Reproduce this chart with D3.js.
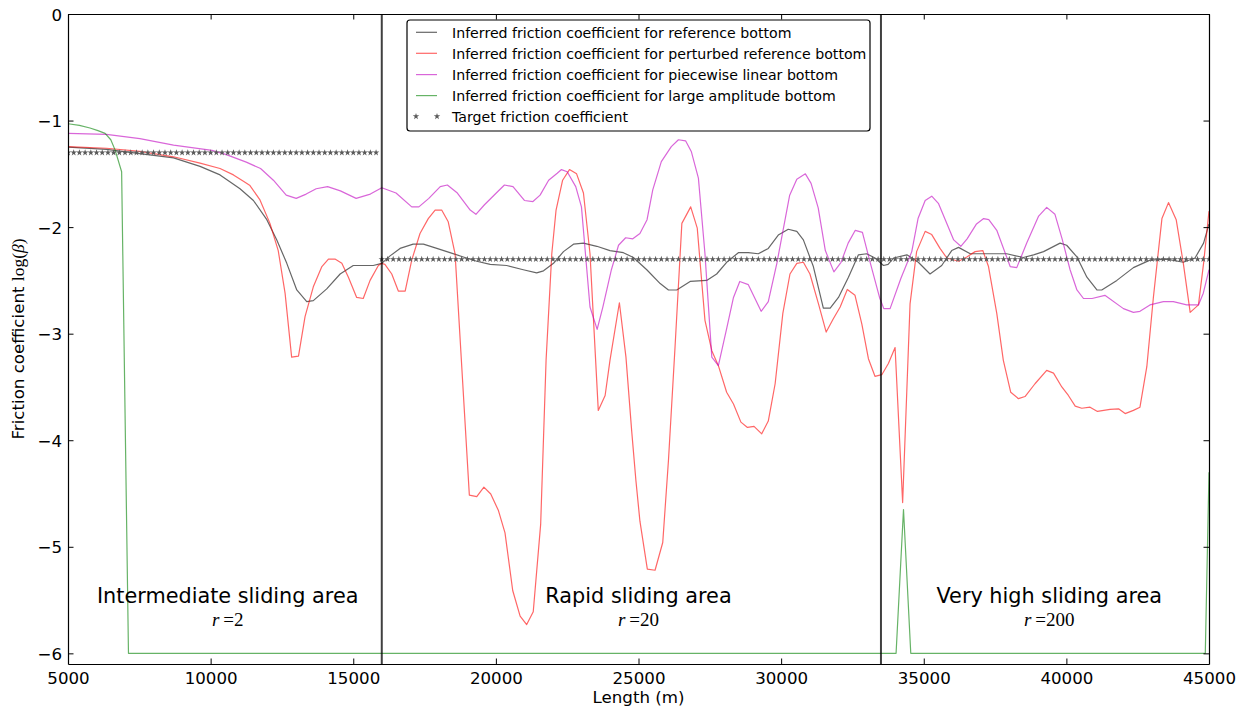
<!DOCTYPE html>
<html>
<head>
<meta charset="utf-8">
<script src="https://cdn.jsdelivr.net/npm/d3@7"></script>
<style>
  body { margin: 0; background: #fff; }
  svg { display: block; }
  text { font-family: "DejaVu Sans", sans-serif; fill: #000; }
</style>
</head>
<body>
<svg id="chart" width="1248" height="711"></svg>
<script>
// Inferred friction coefficient, log10(beta), along the flowline (m)
const refX = [5000, 6350, 7520, 8700, 9630, 10330, 11030, 11500, 11970, 12320, 12670, 13020, 13370, 13600, 14070, 14540, 15000, 15700, 16000, 16290, 16640, 17100, 17460, 17930, 18390, 18860, 19330, 19800, 20380, 20960, 21430, 21670, 22020, 22370, 22720, 23070, 23540, 24000, 24470, 24820, 25290, 25760, 26050, 26340, 26810, 27390, 27740, 28090, 28500, 28850, 29200, 29550, 29900, 30250, 30550, 30780, 31130, 31480, 31720, 32010, 32360, 32710, 33000, 33290, 33590, 33750, 33940, 34410, 34810, 35220, 35630, 35980, 36220, 36630, 37210, 37910, 38490, 38850, 39200, 39780, 40010, 40370, 40720, 41070, 41240, 41770, 42350, 42930, 43520, 44100, 44510, 44810, 45000];
const refY = [-1.25, -1.27, -1.31, -1.35, -1.43, -1.51, -1.64, -1.75, -1.93, -2.12, -2.34, -2.59, -2.70, -2.69, -2.58, -2.44, -2.36, -2.36, -2.34, -2.27, -2.20, -2.16, -2.16, -2.20, -2.24, -2.28, -2.32, -2.35, -2.36, -2.40, -2.43, -2.41, -2.34, -2.23, -2.16, -2.15, -2.18, -2.22, -2.24, -2.285, -2.40, -2.53, -2.59, -2.59, -2.51, -2.50, -2.44, -2.33, -2.24, -2.24, -2.25, -2.20, -2.075, -2.02, -2.04, -2.12, -2.37, -2.76, -2.76, -2.66, -2.47, -2.26, -2.25, -2.29, -2.36, -2.35, -2.29, -2.26, -2.33, -2.44, -2.36, -2.22, -2.19, -2.25, -2.25, -2.25, -2.285, -2.26, -2.23, -2.15, -2.17, -2.28, -2.47, -2.59, -2.59, -2.50, -2.38, -2.31, -2.30, -2.33, -2.29, -2.15, -1.97];

const pertX = [5000, 6350, 7520, 8700, 9630, 10330, 10800, 11150, 11380, 11730, 12080, 12370, 12610, 12840, 13080, 13310, 13600, 13900, 14130, 14360, 14600, 14830, 15120, 15350, 15590, 15880, 16000, 16110, 16350, 16580, 16820, 17050, 17340, 17630, 17870, 18100, 18330, 18570, 19070, 19330, 19580, 19820, 20090, 20320, 20590, 20850, 21080, 21310, 21570, 21760, 21960, 22110, 22340, 22580, 22830, 23070, 23300, 23590, 23830, 24000, 24330, 24560, 24760, 24910, 25050, 25310, 25580, 25850, 26050, 26280, 26520, 26830, 27060, 27330, 27570, 27800, 28090, 28330, 28590, 28820, 29050, 29320, 29550, 29790, 30060, 30310, 30550, 30780, 31010, 31310, 31580, 31830, 32070, 32320, 32590, 32830, 33060, 33290, 33530, 33760, 33995, 34260, 34520, 34750, 35050, 35280, 35570, 35810, 36220, 36510, 36800, 37070, 37270, 37560, 37790, 38050, 38320, 38550, 38900, 39310, 39550, 39840, 40070, 40310, 40540, 40830, 41090, 41530, 41830, 42060, 42350, 42580, 42820, 43050, 43350, 43580, 43850, 44100, 44340, 44630, 44810, 45000];
const pertY = [-1.245, -1.26, -1.29, -1.34, -1.40, -1.45, -1.51, -1.57, -1.61, -1.745, -1.965, -2.22, -2.62, -3.22, -3.21, -2.84, -2.56, -2.37, -2.30, -2.30, -2.34, -2.47, -2.66, -2.67, -2.50, -2.36, -2.34, -2.35, -2.44, -2.60, -2.60, -2.31, -2.06, -1.92, -1.84, -1.84, -1.95, -2.25, -4.515, -4.53, -4.44, -4.505, -4.66, -4.87, -5.41, -5.65, -5.73, -5.61, -4.79, -3.25, -2.25, -1.84, -1.56, -1.46, -1.50, -1.68, -2.25, -3.72, -3.58, -3.25, -2.71, -3.22, -3.91, -4.38, -4.76, -5.21, -5.22, -4.96, -4.19, -3.13, -1.965, -1.81, -2.01, -2.875, -3.16, -3.30, -3.55, -3.66, -3.83, -3.88, -3.87, -3.94, -3.82, -3.47, -2.81, -2.44, -2.34, -2.33, -2.44, -2.72, -2.985, -2.86, -2.75, -2.585, -2.64, -2.91, -3.235, -3.40, -3.385, -3.28, -3.13, -4.585, -2.72, -2.23, -2.04, -2.07, -2.20, -2.29, -2.32, -2.28, -2.23, -2.22, -2.37, -2.81, -3.25, -3.55, -3.61, -3.59, -3.47, -3.345, -3.37, -3.50, -3.58, -3.68, -3.70, -3.69, -3.73, -3.71, -3.705, -3.75, -3.72, -3.69, -3.31, -2.66, -1.92, -1.77, -1.93, -2.34, -2.80, -2.73, -2.34, -1.85];

const pwlX = [5000, 6350, 7520, 8700, 10050, 10550, 11250, 11750, 12200, 12650, 13000, 13350, 13700, 14100, 14550, 15100, 15600, 16000, 16500, 17050, 17300, 17650, 18050, 18300, 18650, 19100, 19300, 19600, 20050, 20300, 20600, 21000, 21300, 21550, 21850, 22150, 22300, 22500, 22800, 23000, 23300, 23550, 23750, 24050, 24300, 24550, 24800, 25050, 25300, 25500, 25800, 26150, 26400, 26650, 26850, 27100, 27330, 27570, 27800, 28100, 28330, 28550, 28850, 29300, 29550, 29850, 30300, 30550, 30850, 31050, 31300, 31550, 31850, 32100, 32350, 32600, 32850, 33100, 33450, 33600, 33820, 34200, 34580, 34800, 35050, 35280, 35520, 36050, 36300, 36520, 36850, 37100, 37280, 37560, 38030, 38260, 38610, 39020, 39310, 39600, 39850, 40130, 40370, 40600, 40900, 41350, 42000, 42350, 42580, 42930, 43400, 43750, 44220, 44630, 44800, 45000];
const pwlY = [-1.12, -1.13, -1.17, -1.23, -1.28, -1.32, -1.39, -1.45, -1.56, -1.70, -1.73, -1.69, -1.64, -1.62, -1.66, -1.73, -1.69, -1.63, -1.68, -1.81, -1.81, -1.73, -1.62, -1.605, -1.68, -1.84, -1.88, -1.79, -1.67, -1.605, -1.62, -1.75, -1.76, -1.70, -1.56, -1.495, -1.46, -1.48, -1.62, -1.81, -2.75, -2.96, -2.75, -2.40, -2.17, -2.10, -2.11, -2.06, -1.93, -1.65, -1.385, -1.245, -1.18, -1.19, -1.29, -1.54, -2.25, -3.22, -3.30, -2.94, -2.66, -2.51, -2.54, -2.79, -2.70, -2.34, -1.70, -1.55, -1.50, -1.59, -1.82, -2.22, -2.42, -2.33, -2.15, -2.03, -2.05, -2.31, -2.66, -2.765, -2.765, -2.48, -2.23, -1.92, -1.75, -1.71, -1.78, -2.12, -2.18, -2.11, -1.97, -1.92, -1.93, -2.03, -2.37, -2.38, -2.15, -1.90, -1.815, -1.88, -2.11, -2.40, -2.59, -2.67, -2.67, -2.64, -2.765, -2.80, -2.79, -2.73, -2.70, -2.70, -2.73, -2.73, -2.62, -2.40];

const largeX = [5000, 5400, 5770, 6050, 6300, 6500, 6650, 6880, 7120, 34030, 34290, 34545, 44870, 45000];
const largeY = [-1.03, -1.045, -1.07, -1.095, -1.12, -1.18, -1.275, -1.48, -6.0, -6.0, -4.65, -6.0, -6.0, -4.3];

// Target friction coefficient: one constant level per sliding area
const targetBreaks = [5000, 16000, 45000];
const targetLevels = [-1.301, -2.301];
const targetSpacing = 200;

// Sliding areas and their annotations
const areaBounds = [16000, 33500];
const areaNames = ["Intermediate sliding area", "Rapid sliding area", "Very high sliding area"];
const areaRatios = ["2", "20", "200"];
const areaCenters = [10600, 25000, 39400];

const xTicks = [5000, 10000, 15000, 20000, 25000, 30000, 35000, 40000, 45000];
const yTicks = [0, -1, -2, -3, -4, -5, -6];

const legendLabels = [
  "Inferred friction coefficient for reference bottom",
  "Inferred friction coefficient for perturbed reference bottom",
  "Inferred friction coefficient for piecewise linear bottom",
  "Inferred friction coefficient for large amplitude bottom",
  "Target friction coefficient"
];

const svg = d3.select("#chart");
const L = 68, R = 1209, T = 14, B = 664;
const x = d3.scaleLinear().domain([5000, 45000]).range([L, R]);
const y = d3.scaleLinear().domain([-6.1, 0]).range([B, T]);

svg.append("defs").append("clipPath").attr("id", "plotclip")
  .append("rect").attr("x", L).attr("y", T).attr("width", R - L).attr("height", B - T);

const plot = svg.append("g").attr("clip-path", "url(#plotclip)");
const line = d3.line().x(d => x(d[0])).y(d => y(d[1]));

const series = [
  { xs: refX, ys: refY, color: "#000000" },
  { xs: pertX, ys: pertY, color: "#ff0000" },
  { xs: pwlX, ys: pwlY, color: "#bf00bf" },
  { xs: largeX, ys: largeY, color: "#008000" }
];

series.forEach(s => {
  plot.append("path")
    .datum(d3.zip(s.xs, s.ys))
    .attr("d", line)
    .attr("fill", "none")
    .attr("stroke", s.color)
    .attr("stroke-opacity", 0.6)
    .attr("stroke-width", 1.2)
    .attr("stroke-linejoin", "round");
});

// target markers
const targetPts = [];
for (let k = 0; k < targetLevels.length; k++) {
  const a = targetBreaks[k], b = targetBreaks[k + 1];
  for (let v = a; v < b || (k === targetLevels.length - 1 && v <= b); v += targetSpacing) {
    targetPts.push([v, targetLevels[k]]);
  }
}
const star = d3.symbol().type(d3.symbolStar).size(13);
plot.append("g").selectAll("path").data(targetPts).join("path")
  .attr("d", star)
  .attr("transform", d => `translate(${x(d[0])},${y(d[1])})`)
  .attr("fill", "#5a5a5a");

// area separators
plot.append("g").selectAll("line").data(areaBounds).join("line")
  .attr("x1", d => x(d)).attr("x2", d => x(d))
  .attr("y1", T).attr("y2", B)
  .attr("stroke", "#000").attr("stroke-opacity", 0.75).attr("stroke-width", 2);

// area annotations
const ann = svg.append("g");
areaNames.forEach((name, i) => {
  ann.append("text")
    .attr("x", x(areaCenters[i])).attr("y", 603)
    .attr("text-anchor", "middle")
    .attr("font-size", 20.8)
    .text(name);
  const t = ann.append("text")
    .attr("x", x(areaCenters[i])).attr("y", 626)
    .attr("text-anchor", "middle")
    .attr("font-size", 19)
    .style("font-family", "'Liberation Serif', 'DejaVu Serif', serif");
  t.append("tspan").attr("font-style", "italic").text("r");
  t.append("tspan").text("\u2009=" + areaRatios[i]);
});

// axes: ticks pointing inward on all four sides
const fmt = d => d3.format("d")(d).replace("-", "\u2212");
const gx = svg.append("g").attr("transform", `translate(0,${B})`)
  .call(d3.axisBottom(x).tickValues(xTicks).tickFormat(fmt).tickSizeInner(-5.5).tickSizeOuter(0).tickPadding(8));
const gxt = svg.append("g").attr("transform", `translate(0,${T})`)
  .call(d3.axisTop(x).tickValues(xTicks).tickFormat("").tickSizeInner(-5.5).tickSizeOuter(0));
const gy = svg.append("g").attr("transform", `translate(${L},0)`)
  .call(d3.axisLeft(y).tickValues(yTicks).tickFormat(fmt).tickSizeInner(-5.5).tickSizeOuter(0).tickPadding(6));
const gyr = svg.append("g").attr("transform", `translate(${R},0)`)
  .call(d3.axisRight(y).tickValues(yTicks).tickFormat("").tickSizeInner(-5.5).tickSizeOuter(0));
[gx, gxt, gy, gyr].forEach(g => {
  g.attr("font-family", "'DejaVu Sans', sans-serif").attr("font-size", 16.67);
  g.selectAll("line").attr("stroke", "#000").attr("stroke-width", 1);
  g.selectAll(".domain").attr("stroke", "#000").attr("stroke-width", 1.2);
});
gy.selectAll("text").attr("dy", "0.36em");

// axis labels
svg.append("text")
  .attr("x", (L + R) / 2).attr("y", 703)
  .attr("text-anchor", "middle").attr("font-size", 16.67)
  .text("Length (m)");

const yl = svg.append("text")
  .attr("transform", `translate(24,${(T + B) / 2}) rotate(-90)`)
  .attr("text-anchor", "middle").attr("font-size", 16.67);
yl.append("tspan").text("Friction coefficient ");
yl.append("tspan").style("font-family", "'Liberation Serif', serif").attr("font-size", 17.5).text("log(");
yl.append("tspan").style("font-family", "'Liberation Serif', serif").attr("font-size", 17.5).attr("font-style", "italic").text("β");
yl.append("tspan").style("font-family", "'Liberation Serif', serif").attr("font-size", 17.5).text(")");

// legend
const lg = svg.append("g");
lg.append("rect")
  .attr("x", 407).attr("y", 20).attr("width", 463).attr("height", 111)
  .attr("rx", 3).attr("ry", 3)
  .attr("fill", "#fff").attr("stroke", "#000").attr("stroke-width", 1.2);
const rowY = [32.3, 53.3, 74.6, 95.6, 116.4];
legendLabels.forEach((lab, i) => {
  if (i < series.length) {
    lg.append("line")
      .attr("x1", 416).attr("x2", 437).attr("y1", rowY[i]).attr("y2", rowY[i])
      .attr("stroke", series[i].color).attr("stroke-opacity", 0.6).attr("stroke-width", 1.2);
  } else {
    [416, 437].forEach(px => {
      lg.append("path").attr("d", star)
        .attr("transform", `translate(${px},${rowY[i]})`)
        .attr("fill", "#5a5a5a");
    });
  }
  lg.append("text")
    .attr("x", 452).attr("y", rowY[i] + 5.3)
    .attr("font-size", 14.15)
    .text(lab);
});
</script>
</body>
</html>
